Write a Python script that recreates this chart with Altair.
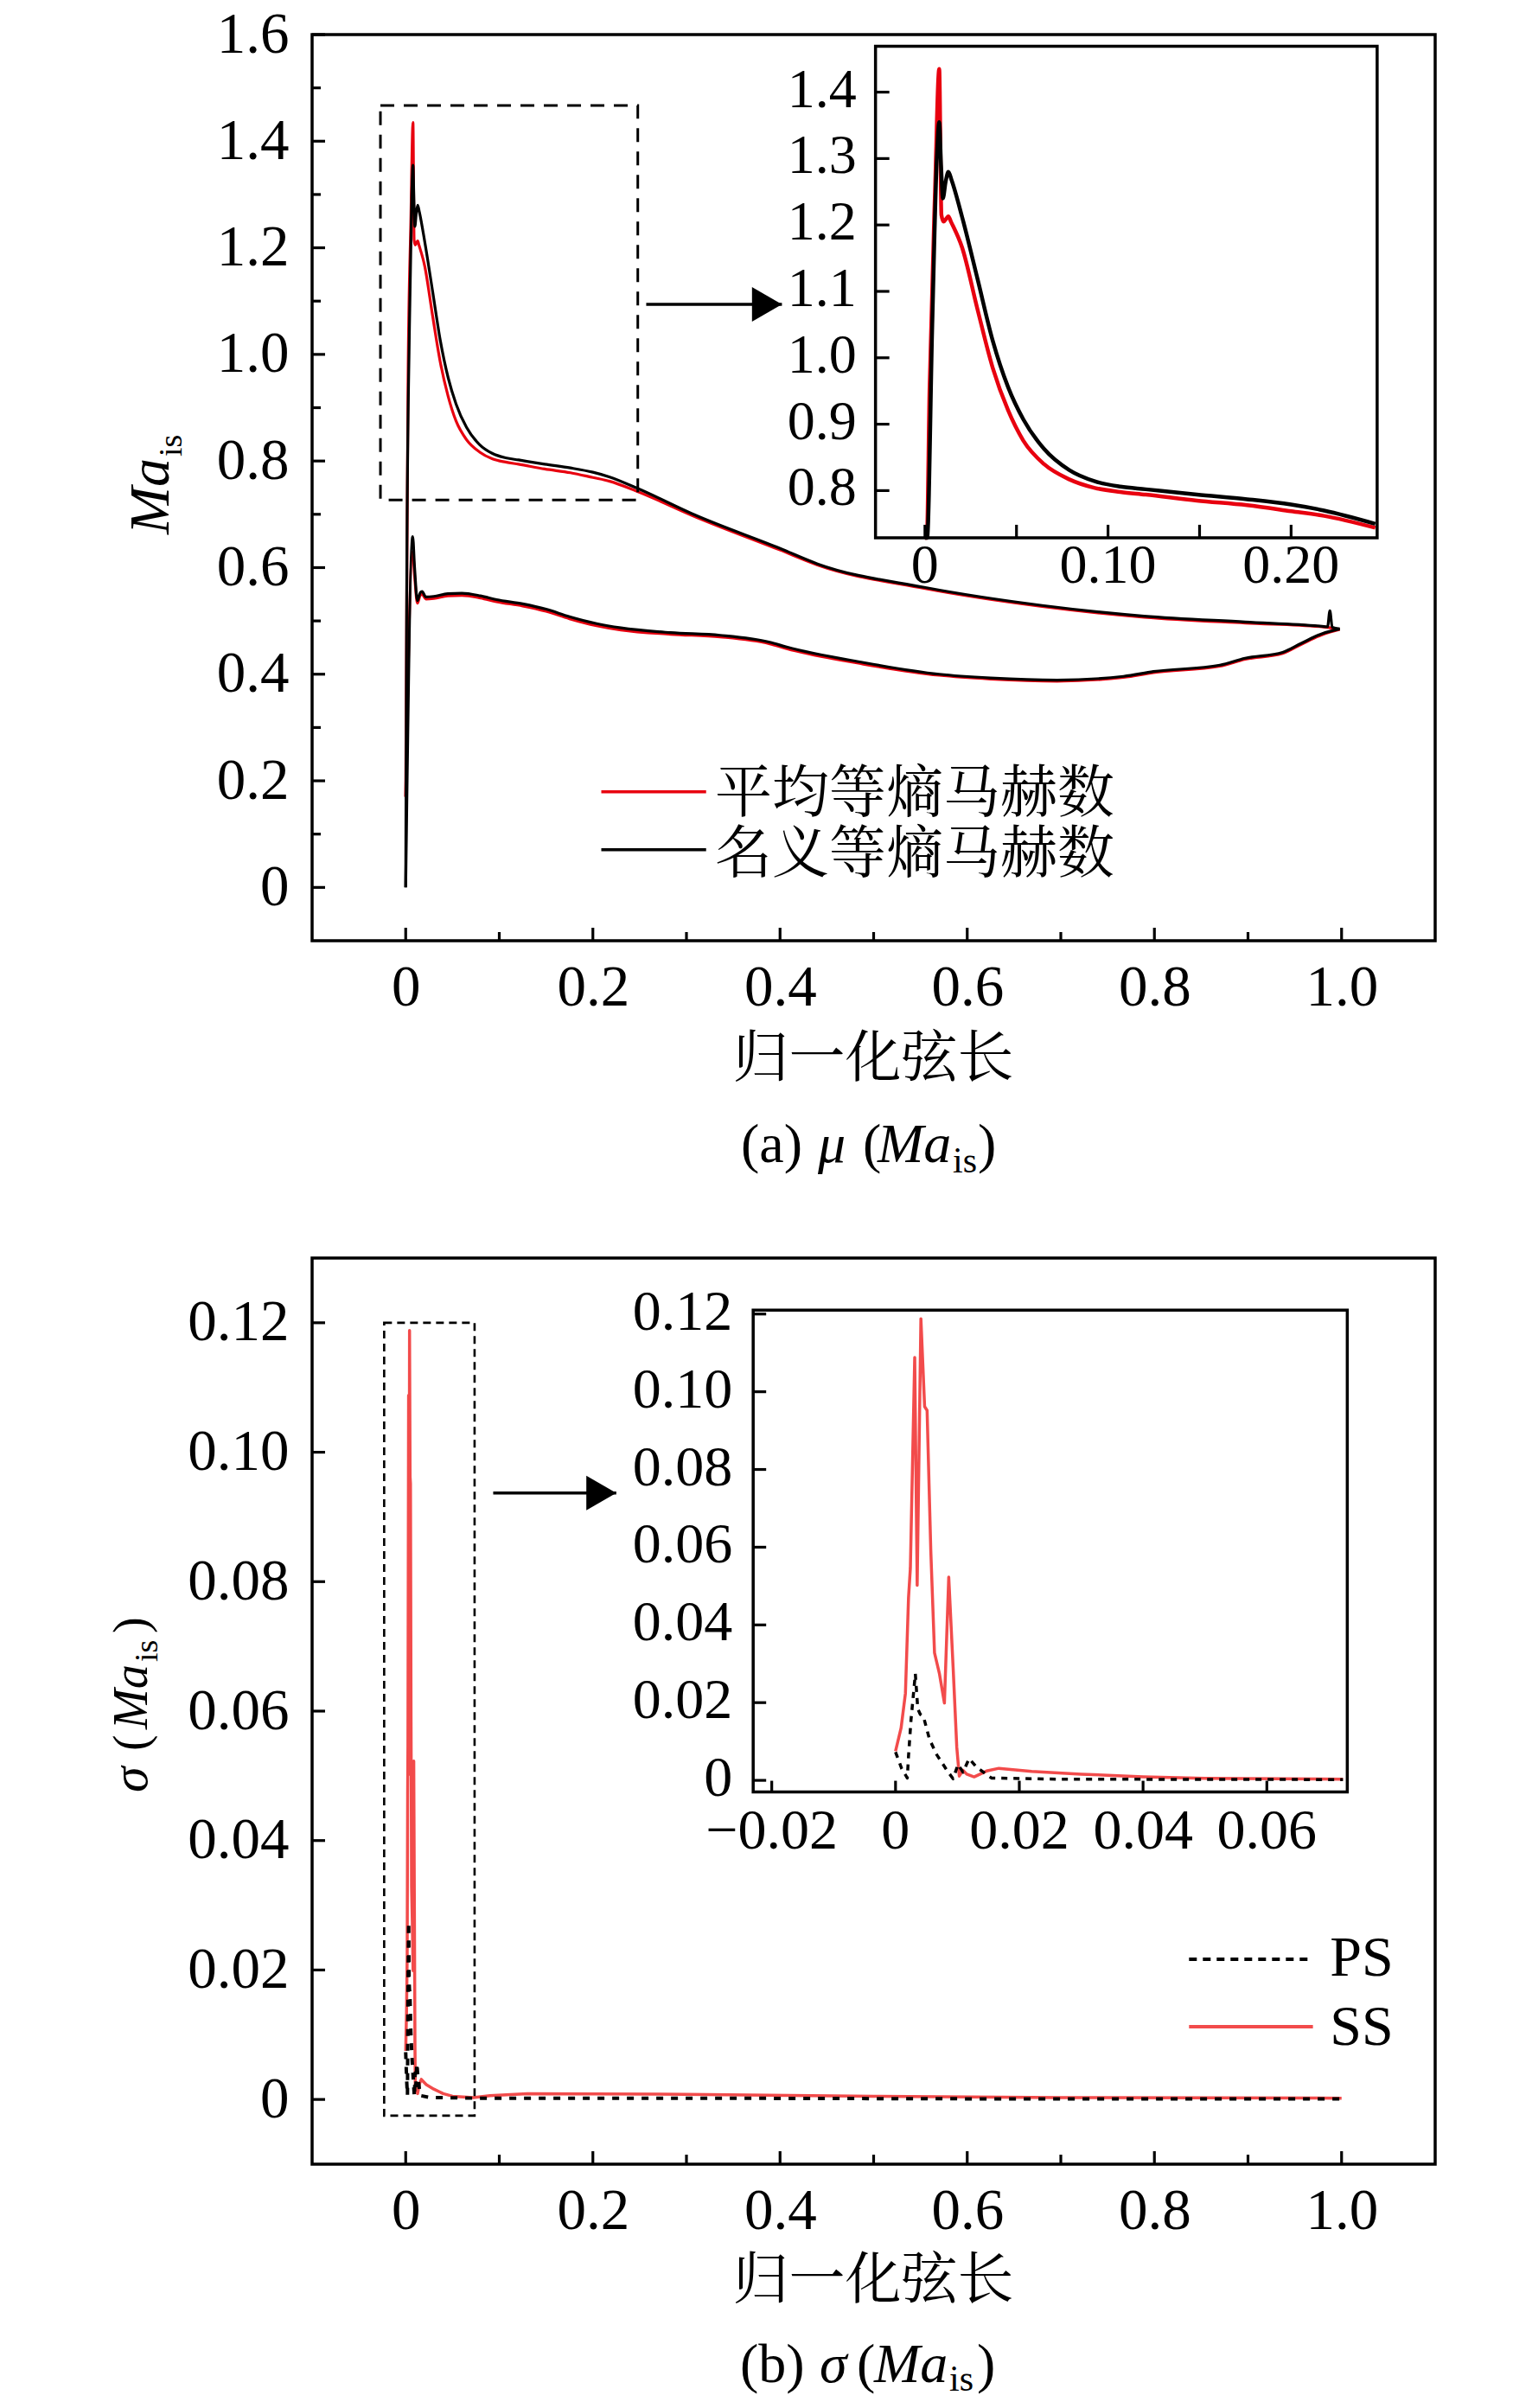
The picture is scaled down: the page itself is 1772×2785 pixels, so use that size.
import altair as alt
import pandas as pd

SERIF = "Liberation Serif, Times New Roman, serif"
CJK = "Noto Serif CJK SC, Noto Sans CJK SC, sans-serif"
RED_A = "#e8000f"
RED_B = "#f24b4b"
BLACK = "#000000"
PW, PH = 1299, 1048
LAB_MAIN = 67

# ======================= panel (a) =======================
A_XDOM = [-0.1, 1.1]
A_YDOM = [-0.1, 1.6]
A_XMAJ = [0, 0.2, 0.4, 0.6, 0.8, 1.0]
A_XMIN = [0.1, 0.3, 0.5, 0.7, 0.9]
A_YMAJ = [0, 0.2, 0.4, 0.6, 0.8, 1.0, 1.2, 1.4, 1.6]
A_YMIN = [0.1, 0.3, 0.5, 0.7, 0.9, 1.1, 1.3, 1.5]
A_SERIES = ["平均等熵马赫数", "名义等熵马赫数"]

# 平均等熵马赫数 (red) - suction side / pressure side
A_RED_SS_X = [0.0, 0.001, 0.0025, 0.0055, 0.0078, 0.0090, 0.0102, 0.0118, 0.0128, 0.0142,
              0.0203, 0.0287, 0.037, 0.0454, 0.0538, 0.065, 0.0788, 0.0928, 0.1067, 0.1206,
              0.1485, 0.176, 0.2, 0.218, 0.246, 0.31, 0.40, 0.44, 0.554, 0.68, 0.789, 0.897,
              0.979, 0.998]
A_RED_SS_Y = [0.17, 0.50, 0.95, 1.25, 1.435, 1.215, 1.205, 1.21, 1.213, 1.205,
              1.166, 1.073, 0.985, 0.921, 0.875, 0.840, 0.817, 0.804, 0.798, 0.794,
              0.785, 0.778, 0.769, 0.762, 0.744, 0.695, 0.633, 0.605, 0.561, 0.527, 0.507, 0.496,
              0.489, 0.484]
A_PS_X = [0.0, 0.0075, 0.0095, 0.0125, 0.0155, 0.0175, 0.0215, 0.03, 0.045, 0.06, 0.08, 0.097,
          0.125, 0.15, 0.175, 0.204, 0.23, 0.283, 0.336, 0.389, 0.407, 0.489, 0.57, 0.625,
          0.696, 0.767, 0.799, 0.87, 0.897, 0.937, 0.957, 0.979, 0.998]
A_RED_PS_Y = [0.17, 0.63, 0.585, 0.533, 0.548, 0.55, 0.541, 0.542, 0.547, 0.548, 0.543, 0.536,
              0.528, 0.518, 0.504, 0.491, 0.483, 0.475, 0.470, 0.457, 0.448, 0.419, 0.398, 0.391,
              0.387, 0.394, 0.403, 0.415, 0.428, 0.439, 0.456, 0.474, 0.484]
# 名义等熵马赫数 (black)
A_BLK_SS_X = [0.0, 0.0012, 0.004, 0.0065, 0.0078, 0.0088, 0.0098, 0.0113, 0.0128, 0.0145,
              0.0203, 0.0287, 0.037, 0.0454, 0.0538, 0.065, 0.0788, 0.0928, 0.1067, 0.1206,
              0.1485, 0.176, 0.2, 0.218, 0.246, 0.31, 0.40, 0.44, 0.554, 0.68, 0.789, 0.897,
              0.979, 0.985, 0.9875, 0.990, 0.998]
A_BLK_SS_Y = [0.0, 0.60, 1.05, 1.30, 1.355, 1.29, 1.24, 1.265, 1.28, 1.268,
              1.212, 1.119, 1.026, 0.956, 0.907, 0.863, 0.831, 0.814, 0.806, 0.802,
              0.794, 0.787, 0.779, 0.770, 0.750, 0.698, 0.636, 0.607, 0.563, 0.529, 0.509, 0.498,
              0.490, 0.489, 0.519, 0.488, 0.485]
A_BLK_PS_Y = [0.0, 0.658, 0.60, 0.538, 0.553, 0.555, 0.545, 0.546, 0.551, 0.552, 0.547, 0.540,
              0.532, 0.522, 0.508, 0.495, 0.487, 0.478, 0.473, 0.460, 0.451, 0.422, 0.400, 0.393,
              0.389, 0.396, 0.405, 0.417, 0.430, 0.441, 0.458, 0.476, 0.485]

A_BOX_X = [-0.027, 0.248]
A_BOX_Y = [0.727, 1.467]
A_ARROW = [0.257, 0.402, 1.094]          # start x, tip x, y
A_LEG_X = [0.209, 0.321, 0.3306]         # line start, line end, text start
A_LEG_LINE_Y = [0.1794, 0.0707]
A_LEG_TEXT_Y = [0.141, 0.028]

A_IN_XDOM = [-0.027, 0.247]
A_IN_YDOM = [0.729, 1.469]
A_IN_PLACE_X = [0.502, 1.038]
A_IN_PLACE_Y = [0.656, 1.578]
A_IN_XTICK = [0, 0.05, 0.10, 0.15, 0.20]
A_IN_YTICK = [0.8, 0.9, 1.0, 1.1, 1.2, 1.3, 1.4]
A_IN_XLAB_V = [0, 0.10, 0.20]
A_IN_XLAB = ["0", "0.10", "0.20"]
A_IN_YLAB = ["0.8", "0.9", "1.0", "1.1", "1.2", "1.3", "1.4"]

# ======================= panel (b) =======================
B_XDOM = [-0.1, 1.1]
B_YDOM = [-0.01, 0.13]
B_XMAJ = [0, 0.2, 0.4, 0.6, 0.8, 1.0]
B_XMIN = [0.1, 0.3, 0.5, 0.7, 0.9]
B_YMAJ = [0, 0.02, 0.04, 0.06, 0.08, 0.10, 0.12]
B_SERIES = ["PS", "SS"]

B_SS_X = [0.0, 0.0009, 0.0016, 0.0021, 0.0024, 0.0031, 0.0035, 0.0041, 0.0047, 0.0051, 0.0057,
          0.0063, 0.0071, 0.0079, 0.0086, 0.0093, 0.0099, 0.0103, 0.0109, 0.0115, 0.0127, 0.0147,
          0.0167, 0.022, 0.030, 0.040, 0.050, 0.0723, 0.09, 0.13, 0.3, 0.5, 0.7, 1.0]
B_SS_Y = [0.0075, 0.0135, 0.0224, 0.047, 0.0546, 0.1088, 0.0502, 0.1188, 0.0962, 0.0952, 0.0591,
          0.0328, 0.0274, 0.0199, 0.0523, 0.0293, 0.0085, 0.0011, 0.0026, 0.0016, 0.0009, 0.0024,
          0.0031, 0.0023, 0.0016, 0.0009, 0.0005, 0.0003, 0.0006, 0.0009, 0.0008, 0.0005, 0.0003, 0.0002]
B_PS_X = [0.0, 0.001, 0.0019, 0.0021, 0.0025, 0.0032, 0.0036, 0.004, 0.0045, 0.0055, 0.0067,
          0.0083, 0.0093, 0.0101, 0.0109, 0.0119, 0.0131, 0.0155, 0.026, 0.0723, 0.3, 0.6, 1.0]
B_PS_Y = [0.0073, 0.003, 0.0006, 0.0063, 0.0155, 0.0274, 0.0184, 0.017, 0.0165, 0.0105, 0.0065,
          0.0026, 0.0004, 0.0041, 0.0021, 0.0056, 0.0034, 0.0006, 0.0003, 0.0002, 0.0002, 0.0001, 0.0001]

B_BOX_X = [-0.023, 0.0736]
B_BOX_Y = [-0.0025, 0.12]
B_ARROW = [0.0935, 0.225, 0.0937]
B_LEG_X = [0.837, 0.9694, 0.9875]
B_LEG_LINE_Y = [0.02166, 0.01123]
B_LEG_TEXT_Y = [0.0191, 0.0084]

B_IN_XDOM = [-0.023, 0.073]
B_IN_YDOM = [-0.003, 0.121]
B_IN_PLACE_X = [0.3713, 1.0061]
B_IN_PLACE_Y = [0.0475, 0.12195]
B_IN_XTICK = [-0.02, 0, 0.02, 0.04, 0.06]
B_IN_YTICK = [0, 0.02, 0.04, 0.06, 0.08, 0.10, 0.12]
B_IN_XLAB = ["\u22120.02", "0", "0.02", "0.04", "0.06"]
B_IN_YLAB = ["0", "0.02", "0.04", "0.06", "0.08", "0.10", "0.12"]


# ======================= helpers =======================
def sc(dom):
    return alt.Scale(domain=dom, nice=False, zero=False)


def ext_domain(inner, place, outer):
    k = (inner[1] - inner[0]) / (place[1] - place[0])
    return [inner[0] - (place[0] - outer[0]) * k, inner[1] + (outer[1] - place[1]) * k]


def xaxis(vals, fmt):
    return alt.Axis(values=vals, labelExpr=f"datum.value == 0 ? '0' : format(datum.value, '{fmt}')",
                    ticks=False, tickSize=0, domain=False, grid=False, labelFont=SERIF,
                    labelFontSize=LAB_MAIN, labelColor="black", labelPadding=21, labelFlush=False,
                    labelOverlap=False, title=None)


def yaxis(vals, fmt):
    return alt.Axis(values=vals, labelExpr=f"datum.value == 0 ? '0' : format(datum.value, '{fmt}')",
                    ticks=False, tickSize=0, domain=False, grid=False, labelFont=SERIF,
                    labelFontSize=LAB_MAIN, labelColor="black", labelPadding=27, labelFlush=False,
                    labelOverlap=False, title=None)


def line(xs, ys, dx, dy, color, width, dash=None, xax=None, yax=None, clip_to=None, smooth=False):
    df = pd.DataFrame({"x": xs, "y": ys, "i": list(range(len(xs)))})
    kw = dict(color=color, strokeWidth=width, strokeJoin="round")
    if dash:
        kw["strokeDash"] = dash
    if smooth:
        kw["interpolate"] = "monotone"
    ch = alt.Chart(df)
    yfield = "y:Q"
    if clip_to is not None:
        (x0, x1), (y0, y1) = clip_to
        ch = ch.transform_filter(f"datum.x <= {x1}").transform_calculate(
            yc=f"min(max(datum.y, {y0}), {y1})")
        yfield = "yc:Q"
    return ch.mark_line(**kw).encode(
        x=alt.X("x:Q", scale=sc(dx), axis=xax),
        y=alt.Y(yfield, scale=sc(dy), axis=yax),
        order="i:Q",
    )


def yticks(vals, edge, dx, dy, length):
    df = pd.DataFrame({"v": vals, "e": [edge] * len(vals)})
    return alt.Chart(df).mark_tick(orient="horizontal", size=length, thickness=3.2, color="black",
                                   opacity=1, xOffset=length / 2).encode(
        x=alt.X("e:Q", scale=sc(dx), axis=None), y=alt.Y("v:Q", scale=sc(dy), axis=None))


def xticks(vals, edge, dx, dy, length):
    df = pd.DataFrame({"v": vals, "e": [edge] * len(vals)})
    return alt.Chart(df).mark_tick(orient="vertical", size=length, thickness=3.2, color="black",
                                   opacity=1, yOffset=-length / 2).encode(
        x=alt.X("v:Q", scale=sc(dx), axis=None), y=alt.Y("e:Q", scale=sc(dy), axis=None))


def rect(bx, by, dx, dy, **kw):
    df = pd.DataFrame({"x0": [bx[0]], "x1": [bx[1]], "y0": [by[0]], "y1": [by[1]]})
    return alt.Chart(df).mark_rect(**kw).encode(
        x=alt.X("x0:Q", scale=sc(dx), axis=None), x2="x1:Q",
        y=alt.Y("y0:Q", scale=sc(dy), axis=None), y2="y1:Q")


def arrow(spec, dx, dy):
    df = pd.DataFrame({"x0": [spec[0]], "x1": [spec[1]], "y": [spec[2]]})
    shaft = alt.Chart(df).mark_rule(color="black", strokeWidth=3.5).encode(
        x=alt.X("x0:Q", scale=sc(dx), axis=None), x2="x1:Q",
        y=alt.Y("y:Q", scale=sc(dy), axis=None))
    head = alt.Chart(df).mark_point(shape="triangle-right", filled=True, size=1600, color="black",
                                    opacity=1, xOffset=-17.3).encode(
        x=alt.X("x1:Q", scale=sc(dx), axis=None), y=alt.Y("y:Q", scale=sc(dy), axis=None))
    return [shaft, head]


def legend(labels, colors, dashes, lx, ly, ty, dx, dy, font, size, width):
    out = []
    for lab, col, dash, y1, y2 in zip(labels, colors, dashes, ly, ty):
        df = pd.DataFrame({"x0": [lx[0]], "x1": [lx[1]], "tx": [lx[2]], "y": [y1], "ty": [y2], "t": [lab]})
        kw = dict(color=col, strokeWidth=width)
        if dash:
            kw["strokeDash"] = dash
        out.append(alt.Chart(df).mark_rule(**kw).encode(
            x=alt.X("x0:Q", scale=sc(dx), axis=None), x2="x1:Q",
            y=alt.Y("y:Q", scale=sc(dy), axis=None)))
        out.append(alt.Chart(df).mark_text(align="left", baseline="alphabetic", font=font,
                                           fontSize=size, color="black").encode(
            x=alt.X("tx:Q", scale=sc(dx), axis=None), y=alt.Y("ty:Q", scale=sc(dy), axis=None),
            text="t:N"))
    return out


def inset_labels(xv, xl, yv, yl, ext_x, ext_y, in_x, in_y, dxl, dyl, size):
    dfy = pd.DataFrame({"v": yv, "t": yl, "e": [in_x[0]] * len(yv)})
    dfx = pd.DataFrame({"v": xv, "t": xl, "e": [in_y[0]] * len(xv)})
    ylab = alt.Chart(dfy).mark_text(align="right", baseline="middle", font=SERIF, fontSize=size,
                                    color="black", dx=dxl, dy=-2).encode(
        x=alt.X("e:Q", scale=sc(ext_x), axis=None), y=alt.Y("v:Q", scale=sc(ext_y), axis=None),
        text="t:N")
    xlab = alt.Chart(dfx).mark_text(align="center", baseline="top", font=SERIF, fontSize=size,
                                    color="black", dy=dyl).encode(
        x=alt.X("v:Q", scale=sc(ext_x), axis=None), y=alt.Y("e:Q", scale=sc(ext_y), axis=None),
        text="t:N")
    return [ylab, xlab]


def piece(txt, x, y, size, font=SERIF, style="normal", angle=0, align="left"):
    kw = dict(align=align, baseline="alphabetic", font=font, fontSize=size, fontStyle=style,
              color="black")
    if angle:
        kw["angle"] = angle
    return alt.Chart(pd.DataFrame({"t": [txt]})).mark_text(**kw).encode(
        text="t:N", x=alt.value(x), y=alt.value(y))


# ======================= panel (a) chart =======================
a_ext_x = ext_domain(A_IN_XDOM, A_IN_PLACE_X, A_XDOM)
a_ext_y = ext_domain(A_IN_YDOM, A_IN_PLACE_Y, A_YDOM)
a_clip = (A_IN_XDOM, A_IN_YDOM)

a_layers = [
    line(A_PS_X, A_RED_PS_Y, A_XDOM, A_YDOM, RED_A, 3.2, smooth=True,
         xax=xaxis(A_XMAJ, ".1f"), yax=yaxis(A_YMAJ, ".1f")),
    line(A_RED_SS_X, A_RED_SS_Y, A_XDOM, A_YDOM, RED_A, 3.2, smooth=True),
    line(A_PS_X, A_BLK_PS_Y, A_XDOM, A_YDOM, BLACK, 3.2, smooth=True),
    line(A_BLK_SS_X, A_BLK_SS_Y, A_XDOM, A_YDOM, BLACK, 3.2, smooth=True),
    yticks(A_YMAJ, A_XDOM[0], A_XDOM, A_YDOM, 15),
    yticks(A_YMIN, A_XDOM[0], A_XDOM, A_YDOM, 10),
    xticks(A_XMAJ, A_YDOM[0], A_XDOM, A_YDOM, 15),
    xticks(A_XMIN, A_YDOM[0], A_XDOM, A_YDOM, 10),
    rect(A_BOX_X, A_BOX_Y, A_XDOM, A_YDOM, filled=False, stroke="black", strokeWidth=3,
         strokeDash=[16, 11]),
    *arrow(A_ARROW, A_XDOM, A_YDOM),
    *legend(A_SERIES, [RED_A, BLACK], [None, None], A_LEG_X, A_LEG_LINE_Y, A_LEG_TEXT_Y,
            A_XDOM, A_YDOM, CJK, 66, 3.5),
    # inset
    rect(A_IN_XDOM, A_IN_YDOM, a_ext_x, a_ext_y, fill="white", strokeWidth=0),
    line(A_RED_SS_X, A_RED_SS_Y, a_ext_x, a_ext_y, RED_A, 4.5, clip_to=a_clip, smooth=True),
    line(A_BLK_SS_X, A_BLK_SS_Y, a_ext_x, a_ext_y, BLACK, 4.5, clip_to=a_clip, smooth=True),
    yticks(A_IN_YTICK, A_IN_XDOM[0], a_ext_x, a_ext_y, 16),
    xticks(A_IN_XTICK, A_IN_YDOM[0], a_ext_x, a_ext_y, 15),
    rect(A_IN_XDOM, A_IN_YDOM, a_ext_x, a_ext_y, filled=False, stroke="black", strokeWidth=3.5),
    *inset_labels(A_IN_XLAB_V, A_IN_XLAB, A_IN_YTICK, A_IN_YLAB, a_ext_x, a_ext_y,
                  A_IN_XDOM, A_IN_YDOM, -22, 1, 64),
    # titles
    piece("Ma", -166, 578, 66, style="italic", angle=270),
    piece("is", -151, 488, 38, angle=270),
    piece("归一化弦长", 649, 1205, 65, font=CJK, align="center"),
    piece("(a)", 496, 1304, 64),
    piece("\u03bc", 585, 1304, 64, style="italic"),
    piece("(", 637, 1304, 64),
    piece("Ma", 654, 1304, 64, style="italic"),
    piece("is", 741, 1316, 42),
    piece(")", 770, 1304, 64),
]
panel_a = alt.layer(*a_layers).resolve_scale(x="independent", y="independent").properties(
    width=PW, height=PH)

# ======================= panel (b) chart =======================
b_ext_x = ext_domain(B_IN_XDOM, B_IN_PLACE_X, B_XDOM)
b_ext_y = ext_domain(B_IN_YDOM, B_IN_PLACE_Y, B_YDOM)
b_clip = (B_IN_XDOM, B_IN_YDOM)

b_layers = [
    line(B_SS_X, B_SS_Y, B_XDOM, B_YDOM, RED_B, 3.5,
         xax=xaxis(B_XMAJ, ".1f"), yax=yaxis(B_YMAJ, ".2f")),
    line(B_PS_X, B_PS_Y, B_XDOM, B_YDOM, BLACK, 4, dash=[8, 9]),
    yticks(B_YMAJ, B_XDOM[0], B_XDOM, B_YDOM, 15),
    xticks(B_XMAJ, B_YDOM[0], B_XDOM, B_YDOM, 15),
    xticks(B_XMIN, B_YDOM[0], B_XDOM, B_YDOM, 11),
    rect(B_BOX_X, B_BOX_Y, B_XDOM, B_YDOM, filled=False, stroke="black", strokeWidth=2.6,
         strokeDash=[9, 6]),
    *arrow(B_ARROW, B_XDOM, B_YDOM),
    *legend(B_SERIES, [BLACK, RED_B], [[9, 7], None], B_LEG_X, B_LEG_LINE_Y, B_LEG_TEXT_Y,
            B_XDOM, B_YDOM, SERIF, 66, 4),
    # inset
    rect(B_IN_XDOM, B_IN_YDOM, b_ext_x, b_ext_y, fill="white", strokeWidth=0),
    line(B_SS_X, B_SS_Y, b_ext_x, b_ext_y, RED_B, 3.5, clip_to=b_clip),
    line(B_PS_X, B_PS_Y, b_ext_x, b_ext_y, BLACK, 3.5, dash=[7, 7], clip_to=b_clip),
    yticks(B_IN_YTICK, B_IN_XDOM[0], b_ext_x, b_ext_y, 15),
    xticks(B_IN_XTICK, B_IN_YDOM[0], b_ext_x, b_ext_y, 13),
    rect(B_IN_XDOM, B_IN_YDOM, b_ext_x, b_ext_y, filled=False, stroke="black", strokeWidth=3.5),
    *inset_labels(B_IN_XTICK, B_IN_XLAB, B_IN_YTICK, B_IN_YLAB, b_ext_x, b_ext_y,
                  B_IN_XDOM, B_IN_YDOM, -24, 13, 66),
    # titles
    piece("\u03c3", -191, 618, 60, style="italic", angle=270),
    piece("(", -191, 570, 56, angle=270),
    piece("Ma", -191, 545, 56, style="italic", angle=270),
    piece("is", -179, 467, 38, angle=270),
    piece(")", -191, 434, 56, angle=270),
    piece("归一化弦长", 649, 1203, 65, font=CJK, align="center"),
    piece("(b)", 495, 1300, 64),
    piece("\u03c3", 587, 1300, 64, style="italic"),
    piece("(", 630, 1300, 64),
    piece("Ma", 650, 1300, 64, style="italic"),
    piece("is", 737, 1310, 42),
    piece(")", 769, 1300, 64),
]
panel_b = alt.layer(*b_layers).resolve_scale(x="independent", y="independent").properties(
    width=PW, height=PH)

chart = alt.vconcat(panel_a, panel_b, spacing=367, bounds="flush").properties(
    padding={"left": 112, "top": -4, "right": 0, "bottom": 0}
).configure_view(stroke="black", strokeWidth=3.5)

chart.save("out.html", embed_options={"renderer": "svg", "actions": False})
